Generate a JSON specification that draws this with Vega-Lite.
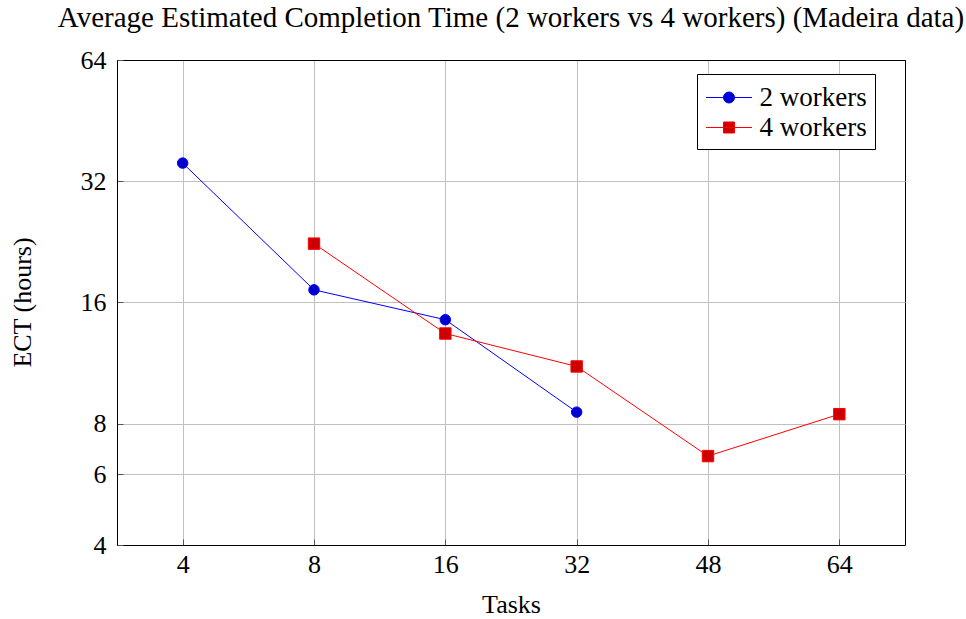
{
  "$schema": "https://vega.github.io/schema/vega-lite/v6.json",
  "autosize": {"type": "none"},
  "padding": {"left": 117, "top": 60, "right": 61, "bottom": 74},
  "width": 788,
  "height": 485,
  "background": "white",
  "config": {
    "font": "Liberation Serif",
    "view": {"stroke": "black", "strokeWidth": 1},
    "axis": {
      "labelFont": "Liberation Serif",
      "titleFont": "Liberation Serif",
      "labelFontSize": 26,
      "titleFontSize": 26,
      "labelColor": "black",
      "titleColor": "black",
      "titleFontWeight": "normal",
      "gridWidth": 1,
      "domain": true,
      "domainColor": "black",
      "domainWidth": 1,
      "ticks": true,
      "tickColor": "#555555",
      "tickSize": -6
    }
  },
  "title": {
    "text": "Average Estimated Completion Time (2 workers vs 4 workers) (Madeira data)",
    "font": "Liberation Serif",
    "fontSize": 29,
    "fontWeight": "normal",
    "color": "black",
    "anchor": "middle",
    "offset": 14
  },
  "data": {
    "values": [
      {"tasks": 4, "series": "2 workers", "ect": 35.5},
      {"tasks": 8, "series": "2 workers", "ect": 17.2},
      {"tasks": 16, "series": "2 workers", "ect": 14.5},
      {"tasks": 32, "series": "2 workers", "ect": 8.55},
      {"tasks": 8, "series": "4 workers", "ect": 22.4},
      {"tasks": 16, "series": "4 workers", "ect": 13.4},
      {"tasks": 32, "series": "4 workers", "ect": 11.1},
      {"tasks": 48, "series": "4 workers", "ect": 6.65},
      {"tasks": 64, "series": "4 workers", "ect": 8.45}
    ]
  },
  "encoding": {
    "x": {
      "field": "tasks",
      "type": "ordinal",
      "scale": {"type": "point", "padding": 0.5},
      "axis": {
        "title": "Tasks",
        "labelAngle": 0,
        "labelPadding": 12,
        "grid": true,
        "gridColor": "#c0c0c0",
        "titleY": 67,
        "titleBaseline": "alphabetic"
      }
    },
    "y": {
      "field": "ect",
      "type": "quantitative",
      "scale": {"type": "log", "base": 2, "domain": [4, 64], "nice": false},
      "axis": {
        "title": "ECT (hours)",
        "values": [4, 6, 8, 16, 32, 64],
        "labelPadding": 17,
        "grid": true,
        "gridColor": {"condition": {"test": "datum.value >= 64", "value": "black"}, "value": "#c0c0c0"},
        "titleX": -87,
        "titleY": 242,
        "titleAngle": -90,
        "titleBaseline": "alphabetic"
      }
    }
  },
  "layer": [
    {
      "transform": [{"filter": "datum.series === '2 workers'"}],
      "mark": {"type": "line", "strokeWidth": 1, "stroke": "#0000ff"}
    },
    {
      "transform": [{"filter": "datum.series === '4 workers'"}],
      "mark": {"type": "line", "strokeWidth": 1, "stroke": "#ff0000"}
    },
    {
      "transform": [{"filter": "datum.series === '2 workers'"}],
      "mark": {"type": "point", "shape": "circle", "filled": true, "size": 110, "fill": "#0000cc", "stroke": "#0000ff", "strokeWidth": 1, "opacity": 1}
    },
    {
      "transform": [{"filter": "datum.series === '4 workers'"}],
      "mark": {"type": "point", "shape": "square", "filled": true, "size": 130, "fill": "#cc0000", "stroke": "#ff0000", "strokeWidth": 1, "opacity": 1}
    },
    {
      "mark": {"type": "point", "opacity": 0},
      "encoding": {
        "fill": {
          "field": "series",
          "type": "nominal",
          "scale": {"domain": ["2 workers", "4 workers"], "range": ["#0000cc", "#cc0000"]},
          "legend": {"title": null, "orient": "none", "legendX": 580, "legendY": 14, "padding": 8, "strokeColor": "black", "fillColor": "white", "cornerRadius": 0, "labelFont": "Liberation Serif", "labelFontSize": 27, "labelColor": "black", "labelBaseline": "middle", "symbolSize": 900, "symbolStrokeWidth": 1, "symbolOpacity": 1, "symbolOffset": 8.5, "labelOffset": 15, "rowPadding": 1}
        },
        "stroke": {
          "field": "series",
          "type": "nominal",
          "scale": {"domain": ["2 workers", "4 workers"], "range": ["#0000ff", "#ff0000"]},
          "legend": {"title": null, "orient": "none", "legendX": 580, "legendY": 14, "padding": 8, "strokeColor": "black", "fillColor": "white", "cornerRadius": 0, "labelFont": "Liberation Serif", "labelFontSize": 27, "labelColor": "black", "labelBaseline": "middle", "symbolSize": 900, "symbolStrokeWidth": 1, "symbolOpacity": 1, "symbolOffset": 8.5, "labelOffset": 15, "rowPadding": 1}
        },
        "shape": {
          "field": "series",
          "type": "nominal",
          "scale": {
            "domain": ["2 workers", "4 workers"],
            "range": [
              "M-1.533,0H1.533M0.367,0A0.367,0.367 0 1 1 -0.367,0A0.367,0.367 0 1 1 0.367,0Z",
              "M-1.533,0H1.533M-0.367,-0.367H0.367V0.367H-0.367Z"
            ]
          },
          "legend": {"title": null, "orient": "none", "legendX": 580, "legendY": 14, "padding": 8, "strokeColor": "black", "fillColor": "white", "cornerRadius": 0, "labelFont": "Liberation Serif", "labelFontSize": 27, "labelColor": "black", "labelBaseline": "middle", "symbolSize": 900, "symbolStrokeWidth": 1, "symbolOpacity": 1, "symbolOffset": 8.5, "labelOffset": 15, "rowPadding": 1}
        }
      }
    }
  ]
}
